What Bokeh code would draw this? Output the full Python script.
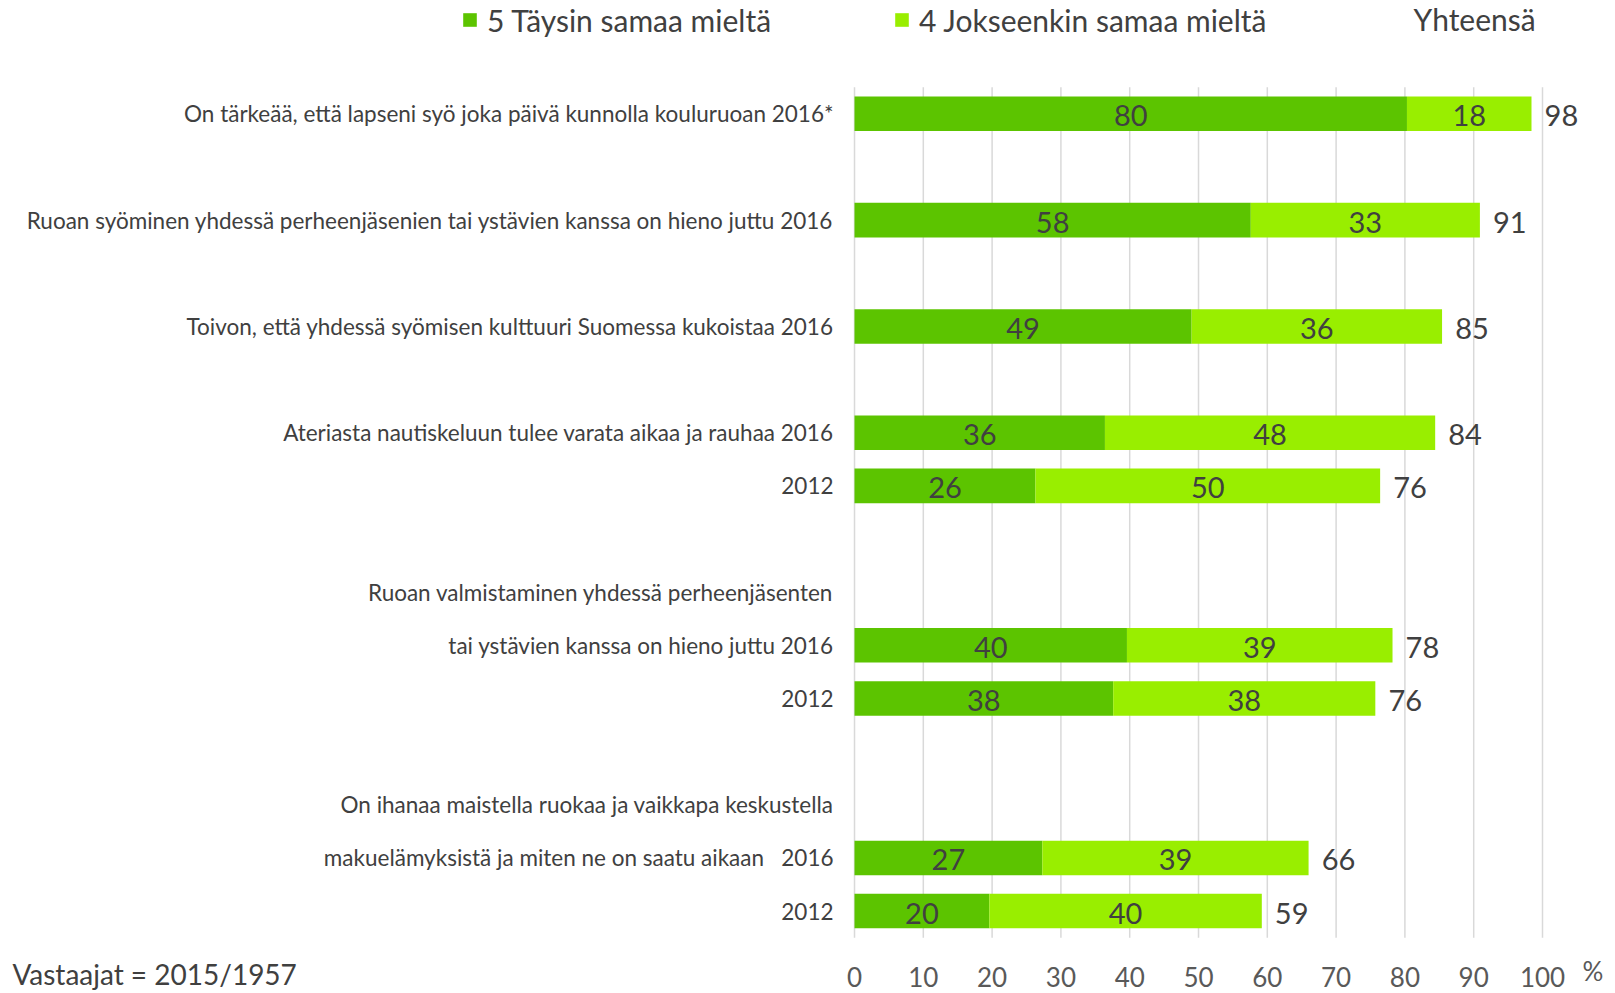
from bokeh.plotting import figure
from bokeh.models import Range1d, FixedTicker, ColumnDataSource, Label, Legend, LegendItem
from bokeh.core.properties import value
from bokeh.embed import file_html
from bokeh.resources import INLINE
import numpy as np

FONT = "Lato"
DARK = "#5CC400"
LIGHT = "#99EE00"
TXT = "#404040"
TICK_TXT = "#595959"
GRID = "#D9D9D9"

# ---- data ----
tick_pos = [0, 2, 4, 6, 7, 9, 10, 11, 13, 14, 15]
tick_text = [
    "On tärkeää, että lapseni syö joka päivä kunnolla kouluruoan 2016*",
    "Ruoan syöminen yhdessä perheenjäsenien tai ystävien kanssa on hieno juttu 2016",
    "Toivon, että yhdessä syömisen kulttuuri Suomessa kukoistaa 2016",
    "Ateriasta nautiskeluun tulee varata aikaa ja rauhaa 2016",
    "2012",
    "Ruoan valmistaminen yhdessä perheenjäsenten",
    "tai ystävien kanssa on hieno juttu 2016",
    "2012",
    "On ihanaa maistella ruokaa ja vaikkapa keskustella",
    "makuelämyksistä ja miten ne on saatu aikaan\u00a0\u00a0\u00a02016",
    "2012",
]
bar_rows = [0, 2, 4, 6, 7, 10, 11, 14, 15]
fully_agree = [80.3, 57.6, 49.0, 36.4, 26.3, 39.6, 37.6, 27.3, 19.6]
somewhat_agree = [18.1, 33.3, 36.4, 48.0, 50.1, 38.6, 38.1, 38.7, 39.6]
x_ticks = [0, 10, 20, 30, 40, 50, 60, 70, 80, 90, 100]
legend_labels = ["5 Täysin samaa mieltä", "4 Jokseenkin samaa mieltä"]
total_title = "Yhteensä"
respondents = "Vastaajat = 2015/1957"
unit = "%"

f5 = np.array(fully_agree)
f4 = np.array(somewhat_agree)
tot = f5 + f4

src = ColumnDataSource(dict(
    y=bar_rows, f5=f5, tot=tot,
    mid5=f5 / 2, mid4=f5 + f4 / 2, totx=tot + 1.9,
    l5=[str(int(round(v))) for v in f5],
    l4=[str(int(round(v))) for v in f4],
    lt=[str(int(round(v))) for v in tot],
))

W, H = 1615, 993
p = figure(width=W, height=H,
           x_range=Range1d(-124.13, 110.61), y_range=Range1d(16.551, -2.132),
           output_backend="svg", toolbar_location=None)
p.min_border = 0
p.outline_line_color = None
p.background_fill_color = "white"
p.border_fill_color = "white"

# vertical gridlines only over the bar area
p.segment(x0=x_ticks, y0=-0.5, x1=x_ticks, y1=15.5, line_color=GRID, line_width=1.5)

r1 = p.hbar(y="y", left=0, right="f5", height=0.65, source=src,
            fill_color=DARK, line_color=None)
r2 = p.hbar(y="y", left="f5", right="tot", height=0.65, source=src,
            fill_color=LIGHT, line_color=None)

common = dict(text_font=value(FONT), text_font_size="29px", text_color=TXT,
              text_baseline="middle", y_offset=2)
p.text(x="mid5", y="y", text="l5", text_align="center", source=src, **common)
p.text(x="mid4", y="y", text="l4", text_align="center", source=src, **common)
p.text(x="totx", y="y", text="lt", text_align="left", source=src, **common)

# axes (drawn at fixed data locations, taking no border space)
xa = p.xaxis[0]
xa.fixed_location = 15.5
xa.ticker = FixedTicker(ticks=x_ticks)
xa.axis_line_color = None
xa.major_tick_line_color = None
xa.minor_tick_line_color = None
xa.major_label_text_font = FONT
xa.major_label_text_font_size = "26px"
xa.major_label_text_color = TICK_TXT
xa.major_label_standoff = 23

ya = p.yaxis[0]
ya.fixed_location = 0
ya.ticker = FixedTicker(ticks=tick_pos)
ya.major_label_overrides = {k: v for k, v in zip(tick_pos, tick_text)}
ya.axis_line_color = None
ya.major_tick_line_color = None
ya.minor_tick_line_color = None
ya.major_label_text_font = FONT
ya.major_label_text_font_size = "22.5px"
ya.major_label_text_color = TXT
ya.major_label_standoff = 15

p.xgrid.visible = False
p.ygrid.visible = False

legend = Legend(items=[LegendItem(label=legend_labels[0], renderers=[r1]),
                       LegendItem(label=legend_labels[1], renderers=[r2])],
                location=(461, 955.5), orientation="horizontal",
                glyph_width=17, glyph_height=17, label_standoff=9,
                spacing=122, padding=0, margin=0,
                border_line_color=None, background_fill_alpha=0,
                label_text_font=FONT, label_text_font_size="30px",
                label_text_color=TXT)
p.add_layout(legend)

p.add_layout(Label(x=81.25, y=-1.784, text=total_title, text_font=FONT,
                   text_font_size="30px", text_color=TXT, text_baseline="middle"))
p.add_layout(Label(x=105.8, y=16.128, text=unit, text_font=FONT,
                   text_font_size="26px", text_color=TICK_TXT, text_baseline="middle"))
p.add_layout(Label(x=-122.4, y=16.184, text=respondents, text_font=FONT,
                   text_font_size="28px", text_color=TXT, text_baseline="middle"))

open("out.html", "w").write(file_html(p, INLINE))
